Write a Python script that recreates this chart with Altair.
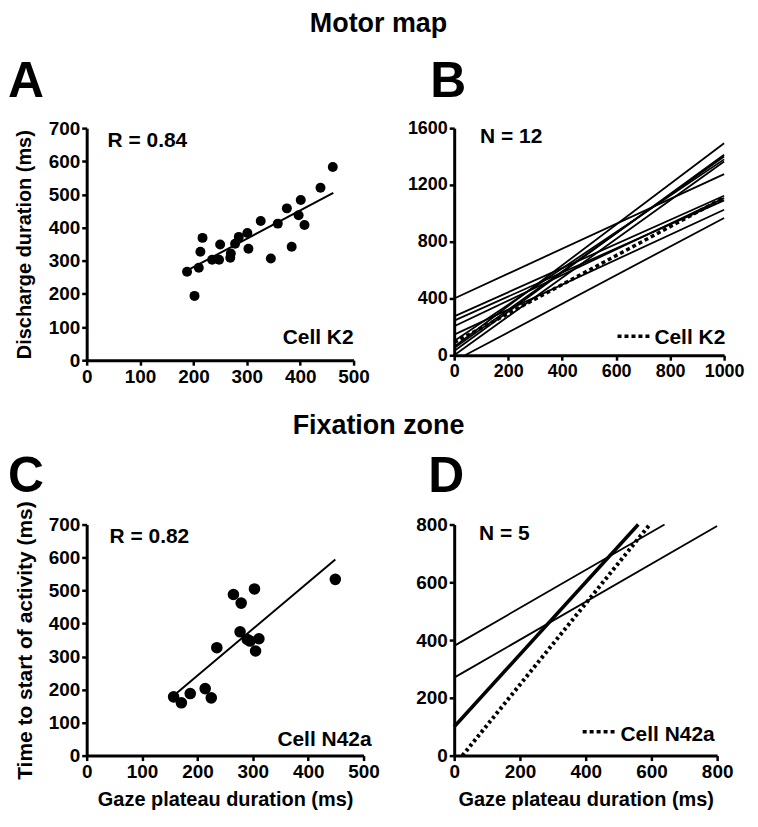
import altair as alt
import pandas as pd

FONT = "Liberation Sans"

# ---------------- Panel A (Motor map, Cell K2) ----------------
a_x = [188, 202, 210, 213, 217, 235, 248, 250, 269, 270, 278, 285, 301, 303,
       326, 345, 358, 375, 384, 397, 401, 408, 438, 461]
a_y = [267, 194, 279, 327, 369, 303, 303, 349, 309, 322, 351, 372, 384, 336,
       420, 307, 412, 458, 342, 437, 483, 408, 520, 583]
a_fit_x = [185, 462]
a_fit_y = [268, 505]

# ---------------- Panel B (N = 12 regression lines) ----------------
b_x0 = [0, 0, 0, 0, 0, 40, 0, 0, 0, 0, 0]
b_y0 = [400, 274, 244, 204, 145, 0, 60, 30, 50, 0, 100]
b_x1 = [1000] * 11
b_y1 = [1276, 1124, 1091, 1107, 1025, 967, 1494, 1412, 1400, 1365, 1380]
b_k2_x = [0, 1000]
b_k2_y = [90, 1110]

# ---------------- Panel C (Fixation zone, Cell N42a) ----------------
c_x = [157, 171, 187, 214, 225, 235, 265, 279, 277, 290, 295, 303, 305, 311, 449]
c_y = [178, 160, 188, 203, 175, 327, 488, 462, 375, 352, 347, 505, 317, 354, 534]
c_fit_x = [160, 449]
c_fit_y = [186, 594]

# ---------------- Panel D (N = 5 regression lines) ----------------
d_x0 = [0, 0]
d_y0 = [380, 270]
d_x1 = [640, 800]
d_y1 = [800, 795]
d_thick_x = [0, 560]
d_thick_y = [100, 800]
d_n42_x = [25, 595]
d_n42_y = [0, 800]


def axis(values, title=None, label_size=19, title_size=20, title_pad=14):
    return alt.Axis(values=values, labelFontSize=label_size, titleFontSize=title_size,
                    titlePadding=title_pad, format="d", title=title)


def txt(s, x, y, size=21, align="left"):
    return alt.Chart(pd.DataFrame({"t": [s]})).mark_text(
        align=align, baseline="alphabetic", fontSize=size, fontWeight="bold",
        font=FONT, color="black"
    ).encode(text="t:N", x=alt.value(x), y=alt.value(y))


def seg_df(x0, y0, x1, y1):
    rows = []
    for i in range(len(x0)):
        rows.append({"id": i, "x": x0[i], "y": y0[i]})
        rows.append({"id": i, "x": x1[i], "y": y1[i]})
    return pd.DataFrame(rows)


# ---- Panel A
ax_a_x = alt.X("x:Q", scale=alt.Scale(domain=[0, 500], nice=False),
               axis=axis([0, 100, 200, 300, 400, 500]))
ax_a_y = alt.Y("y:Q", scale=alt.Scale(domain=[0, 700], nice=False),
               axis=axis(list(range(0, 701, 100)), "Discharge duration (ms)"))
pts_a = alt.Chart(pd.DataFrame({"x": a_x, "y": a_y})).mark_circle(
    size=100, color="black", opacity=1).encode(x=ax_a_x, y=ax_a_y)
fit_a = alt.Chart(pd.DataFrame({"x": a_fit_x, "y": a_fit_y})).mark_line(
    color="black", strokeWidth=2).encode(x=ax_a_x, y=ax_a_y)
panel_a = alt.layer(
    pts_a, fit_a,
    txt("R = 0.84", 21, 19),
    txt("Cell K2", 268, 217, align="right"),
    txt("A", -79, -31, size=50),
    txt("Motor map", 293, -97, size=27, align="center"),
).properties(width=268, height=233)

# ---- Panel B
ax_b_x = alt.X("x:Q", scale=alt.Scale(domain=[0, 1000], nice=False),
               axis=axis([0, 200, 400, 600, 800, 1000], label_size=18))
ax_b_y = alt.Y("y:Q", scale=alt.Scale(domain=[0, 1600], nice=False),
               axis=axis([0, 400, 800, 1200, 1600], label_size=18))
lines_b = alt.Chart(seg_df(b_x0, b_y0, b_x1, b_y1)).mark_line(
    color="black", strokeWidth=1.8).encode(x=ax_b_x, y=ax_b_y, detail="id:N")
k2_b = alt.Chart(pd.DataFrame({"x": b_k2_x, "y": b_k2_y})).mark_line(
    color="black", strokeWidth=3.5, strokeDash=[4, 3]).encode(x=ax_b_x, y=ax_b_y)
leg_b = alt.Chart(pd.DataFrame({"t": ["leg"]})).mark_rule(
    color="black", strokeWidth=3.5, strokeDash=[4, 3]).encode(
    x=alt.value(164), x2=alt.value(197), y=alt.value(209))
panel_b = alt.layer(
    lines_b, k2_b, leg_b,
    txt("N = 12", 26, 15),
    txt("Cell K2", 201, 217),
    txt("B", -24, -31, size=50),
).properties(width=271, height=228)

# ---- Panel C
ax_c_x = alt.X("x:Q", scale=alt.Scale(domain=[0, 500], nice=False),
               axis=axis([0, 100, 200, 300, 400, 500], "Gaze plateau duration (ms)",
                         title_pad=8))
ax_c_y = alt.Y("y:Q", scale=alt.Scale(domain=[0, 700], nice=False),
               axis=axis(list(range(0, 701, 100)), "Time to start of activity (ms)",
                         title_size=21, title_pad=13))
pts_c = alt.Chart(pd.DataFrame({"x": c_x, "y": c_y})).mark_circle(
    size=135, color="black", opacity=1).encode(x=ax_c_x, y=ax_c_y)
fit_c = alt.Chart(pd.DataFrame({"x": c_fit_x, "y": c_fit_y})).mark_line(
    color="black", strokeWidth=2).encode(x=ax_c_x, y=ax_c_y)
panel_c = alt.layer(
    pts_c, fit_c,
    txt("R = 0.82", 23, 19),
    txt("Cell N42a", 286, 222, align="right"),
    txt("C", -79, -33, size=50),
    txt("Fixation zone", 293, -91, size=27, align="center"),
).properties(width=278, height=232)

# ---- Panel D
ax_d_x = alt.X("x:Q", scale=alt.Scale(domain=[0, 800], nice=False),
               axis=axis([0, 200, 400, 600, 800], "Gaze plateau duration (ms)",
                         title_pad=8))
ax_d_y = alt.Y("y:Q", scale=alt.Scale(domain=[0, 800], nice=False),
               axis=axis([0, 200, 400, 600, 800]))
lines_d = alt.Chart(seg_df(d_x0, d_y0, d_x1, d_y1)).mark_line(
    color="black", strokeWidth=1.8).encode(x=ax_d_x, y=ax_d_y, detail="id:N")
thick_d = alt.Chart(pd.DataFrame({"x": d_thick_x, "y": d_thick_y})).mark_line(
    color="black", strokeWidth=3.5).encode(x=ax_d_x, y=ax_d_y)
n42_d = alt.Chart(pd.DataFrame({"x": d_n42_x, "y": d_n42_y})).mark_line(
    color="black", strokeWidth=4, strokeDash=[3, 3]).encode(x=ax_d_x, y=ax_d_y)
leg_d = alt.Chart(pd.DataFrame({"t": ["leg"]})).mark_rule(
    color="black", strokeWidth=3.5, strokeDash=[4, 3]).encode(
    x=alt.value(129), x2=alt.value(162), y=alt.value(208))
panel_d = alt.layer(
    lines_d, thick_d, n42_d, leg_d,
    txt("N = 5", 25, 16),
    txt("Cell N42a", 167, 217),
    txt("D", -26, -33, size=50),
).properties(width=264, height=232)

chart = alt.concat(
    panel_a, panel_b, panel_c, panel_d, columns=2,
    spacing={"row": 165, "column": 91}, bounds="flush",
).properties(
    padding={"left": 0, "top": 0, "right": 5, "bottom": 5}
).configure(font=FONT).configure_view(stroke=None).configure_axis(
    grid=False,
    domainColor="black", domainWidth=3,
    tickColor="black", tickWidth=2.5, tickSize=5,
    labelColor="black", labelFont=FONT, labelFontWeight="bold", labelPadding=2,
    titleColor="black", titleFont=FONT, titleFontWeight="bold",
    labelFlush=False,
)

chart.save("out.html", embed_options={"renderer": "svg", "actions": False})
